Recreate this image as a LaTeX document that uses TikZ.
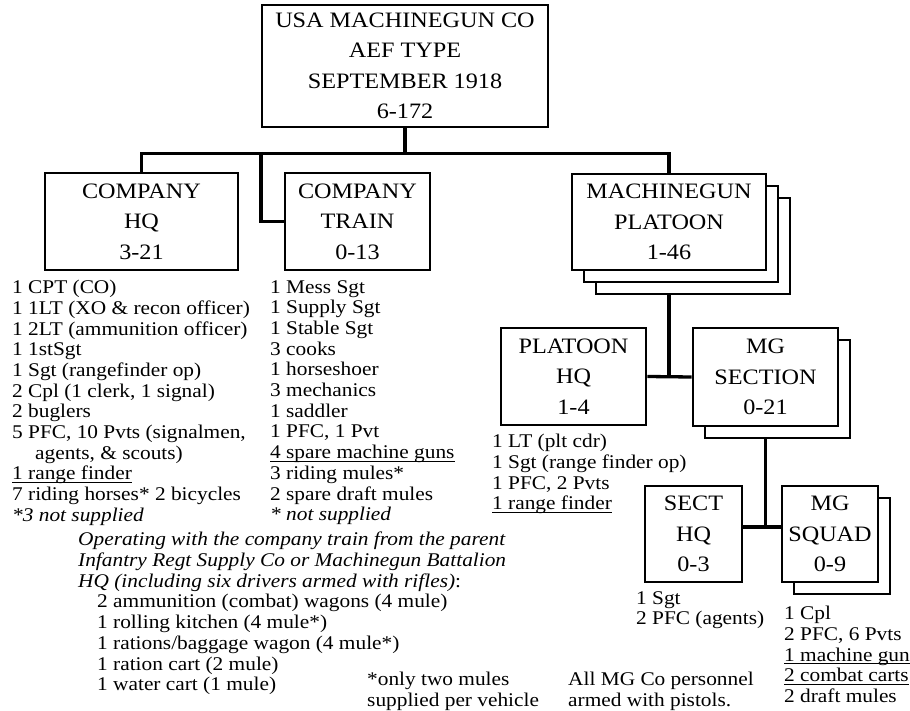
\documentclass[tikz,border=0pt]{standalone}
\usepackage{fontspec}
\setmainfont{Liberation Serif}[FakeStretch=1.1]
\usetikzlibrary{calc,shadows,backgrounds}

\newcommand{\boxfont}{\fontsize{22}{30.5}\selectfont}
\newcommand{\listfont}{\fontsize{19.4}{20.7}\selectfont}
\newcommand{\underrule}[1]{\setbox0\hbox{#1}\rlap{\rule[-3pt]{\wd0}{1.1pt}}\box0}

\tikzset{
  unit/.style={draw, fill=white, line width=2.7pt, align=center,
    font=\boxfont, inner sep=0pt},
  onecopy/.style={general shadow={shadow xshift=12pt, shadow yshift=-12pt,
      draw, fill=white, line width=2.7pt}},
  twocopy/.style={general shadow={shadow xshift=24pt, shadow yshift=-24pt,
      draw, fill=white, line width=2.7pt}, onecopy},
  link/.style={line width=3.3pt},
  roster/.style={align=left, anchor=north west, inner sep=0pt,
    font=\listfont, execute at begin node=\strut}
}

\begin{document}
\begin{tikzpicture}[x=1pt,y=-1pt]
  \useasboundingbox (0,0) rectangle (910,711);

  \node[unit, minimum width=286pt, minimum height=122pt] (top) at (405,66)
    {USA MACHINEGUN CO\\AEF TYPE\\SEPTEMBER 1918\\6-172};

  \node[unit, minimum width=193pt, minimum height=97pt] (chq) at (141.5,221.5)
    {COMPANY\\HQ\\3-21};
  \node[unit, minimum width=145pt, minimum height=97pt] (ctrain) at (357.5,221.5)
    {COMPANY\\TRAIN\\0-13};
  \node[unit, twocopy, minimum width=194pt, minimum height=96pt] (mgplt) at (669,222)
    {MACHINEGUN\\PLATOON\\1-46};

  \node[unit, minimum width=145pt, minimum height=97pt] (plthq) at (573.5,376.5)
    {PLATOON\\HQ\\1-4};
  \node[unit, onecopy, minimum width=145pt, minimum height=98pt] (mgsec) at (765.5,377)
    {MG\\SECTION\\0-21};

  \node[unit, minimum width=97pt, minimum height=96pt] (secthq) at (693.5,534)
    {SECT\\HQ\\0-3};
  \node[unit, onecopy, minimum width=96pt, minimum height=96pt] (mgsqd) at (830,534)
    {MG\\SQUAD\\0-9};

  \begin{scope}[on background layer]
    \coordinate (bus) at ($(top.south)+(0,25)$);
    \coordinate (trainjn) at (261,152);
    \coordinate (sectjn) at ($(secthq.east)+(0,-7)$);
    \draw[link] (top.south) -- (bus);
    \draw[link] (chq.north) |- (bus) -| (mgplt.north);
    \draw[link] (trainjn) |- (ctrain.west);
    \draw[link] (mgplt.south) -- (mgplt.south |- plthq.east);
    \draw[link] (plthq.east) -- (mgsec.west);
    \draw[link] (mgsec.south) -- (mgsec.south |- sectjn);
    \draw[link] (sectjn) -- (sectjn -| mgsqd.west);
  \end{scope}

  \node[roster] (chqlist) at (12,280)
    {1 CPT (CO)\\1 1LT (XO \& recon officer)\\1 2LT (ammunition officer)\\
     1 1stSgt\\1 Sgt (rangefinder op)\\2 Cpl (1 clerk, 1 signal)\\2 buglers\\
     5 PFC, 10 Pvts (signalmen,\\\hspace*{23pt}agents, \& scouts)\\
     \underrule{1 range finder}\\7 riding horses* 2 bicycles\\
     \textit{*3 not supplied}};
  \node[roster] (trainlist) at (270,280)
    {1 Mess Sgt\\1 Supply Sgt\\1 Stable Sgt\\3 cooks\\1 horseshoer\\
     3 mechanics\\1 saddler\\1 PFC, 1 Pvt\\\underrule{4 spare machine guns}\\
     3 riding mules*\\2 spare draft mules\\\textit{* not supplied}};
  \node[roster] (plthqlist) at (492,434)
    {1 LT (plt cdr)\\1 Sgt (range finder op)\\1 PFC, 2 Pvts\\
     \underrule{1 range finder}};
  \node[roster] (secthqlist) at (636,591)
    {1 Sgt\\2 PFC (agents)};
  \node[roster] (mgsqdlist) at (784,606)
    {1 Cpl\\2 PFC, 6 Pvts\\\underrule{1 machine gun}\\
     \underrule{2 combat carts}\\2 draft mules};

  \node[roster] (wagons) at (78,532)
    {\textit{Operating with the company train from the parent}\\
     \textit{Infantry Regt Supply Co or Machinegun Battalion}\\
     \textit{HQ (including six drivers armed with rifles)}:\\
     \hspace*{19pt}2 ammunition (combat) wagons (4 mule)\\
     \hspace*{19pt}1 rolling kitchen (4 mule*)\\
     \hspace*{19pt}1 rations/baggage wagon (4 mule*)\\
     \hspace*{19pt}1 ration cart (2 mule)\\
     \hspace*{19pt}1 water cart (1 mule)};
  \node[roster] (mulenote) at (367,672)
    {*only two mules\\supplied per vehicle};
  \node[roster] (armsnote) at (568,672)
    {All MG Co personnel\\armed with pistols.};
\end{tikzpicture}
\end{document}
